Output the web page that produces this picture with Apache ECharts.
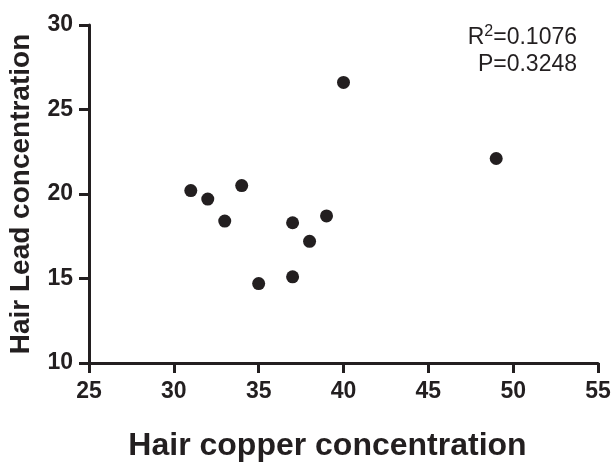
<!DOCTYPE html>
<html>
<head>
<meta charset="utf-8">
<script src="https://cdn.jsdelivr.net/npm/echarts@6/dist/echarts.min.js"></script>
<style>
  html, body { margin: 0; padding: 0; background: #fff; }
  #chart { width: 614px; height: 463px; }
</style>
</head>
<body>
<div id="chart"></div>
<script>
  // hair copper (x) vs hair lead (y)
  const copperValues = [31, 32, 33, 34, 35, 37, 37, 38, 39, 40, 49]
  const leadValues = [20.2, 19.7, 18.4, 20.5, 14.7, 18.3, 15.1, 17.2, 18.7, 26.6, 22.1]
  const rSquared = '0.1076'
  const pValue = '0.3248'

  const ink = '#231f20'
  const font = '"Liberation Sans", Arial, Helvetica, sans-serif'

  const points = copperValues.map((x, i) => [x, leadValues[i]])

  const chart = echarts.init(document.getElementById('chart'))
  const option = {
    animation: false,
    grid: {
      left: 89,
      right: 16,
      top: 25,
      bottom: 100,
      containLabel: false,
      outerBoundsMode: 'none'
    },
    xAxis: {
      type: 'value',
      min: 25,
      max: 55,
      interval: 5,
      name: 'Hair copper concentration',
      nameLocation: 'middle',
      nameGap: 67,
      nameMoveOverlap: false,
      nameTextStyle: {
        color: ink,
        fontFamily: font,
        fontWeight: 'bold',
        fontSize: 32,
        padding: [0, 32, 0, 0]
      },
      axisLine: { lineStyle: { color: ink, width: 3 } },
      axisTick: { length: 10, lineStyle: { color: ink, width: 3 } },
      axisLabel: {
        margin: 17,
        color: ink,
        fontFamily: font,
        fontWeight: 'bold',
        fontSize: 23
      },
      splitLine: { show: false }
    },
    yAxis: {
      type: 'value',
      min: 10,
      max: 30,
      interval: 5,
      name: 'Hair Lead concentration',
      nameLocation: 'middle',
      nameRotate: 90,
      nameGap: 54,
      nameMoveOverlap: false,
      nameTextStyle: {
        color: ink,
        fontFamily: font,
        fontWeight: 'bold',
        fontSize: 28
      },
      axisLine: { show: true, lineStyle: { color: ink, width: 3 } },
      axisTick: { show: true, length: 10, lineStyle: { color: ink, width: 3 } },
      axisLabel: {
        margin: 16,
        color: ink,
        fontFamily: font,
        fontWeight: 'bold',
        fontSize: 23
      },
      splitLine: { show: false }
    },
    series: [
      {
        type: 'scatter',
        data: points,
        symbol: 'circle',
        symbolSize: 13,
        itemStyle: { color: ink, opacity: 1 }
      }
    ],
    graphic: [
      {
        type: 'text',
        right: 37,
        top: 24,
        style: {
          text: '{a|R}{s|2}{a|=' + rSquared + '}\n{a|P=' + pValue + '}',
          align: 'right',
          fill: ink,
          rich: {
            a: { fontFamily: font, fontSize: 23, lineHeight: 27, fill: ink, align: 'right' },
            s: { fontFamily: font, fontSize: 16, lineHeight: 15, fill: ink, align: 'right', verticalAlign: 'top', padding: [0, 0, 0, 0] }
          }
        }
      }
    ]
  }
  chart.setOption(option)
</script>
</body>
</html>
